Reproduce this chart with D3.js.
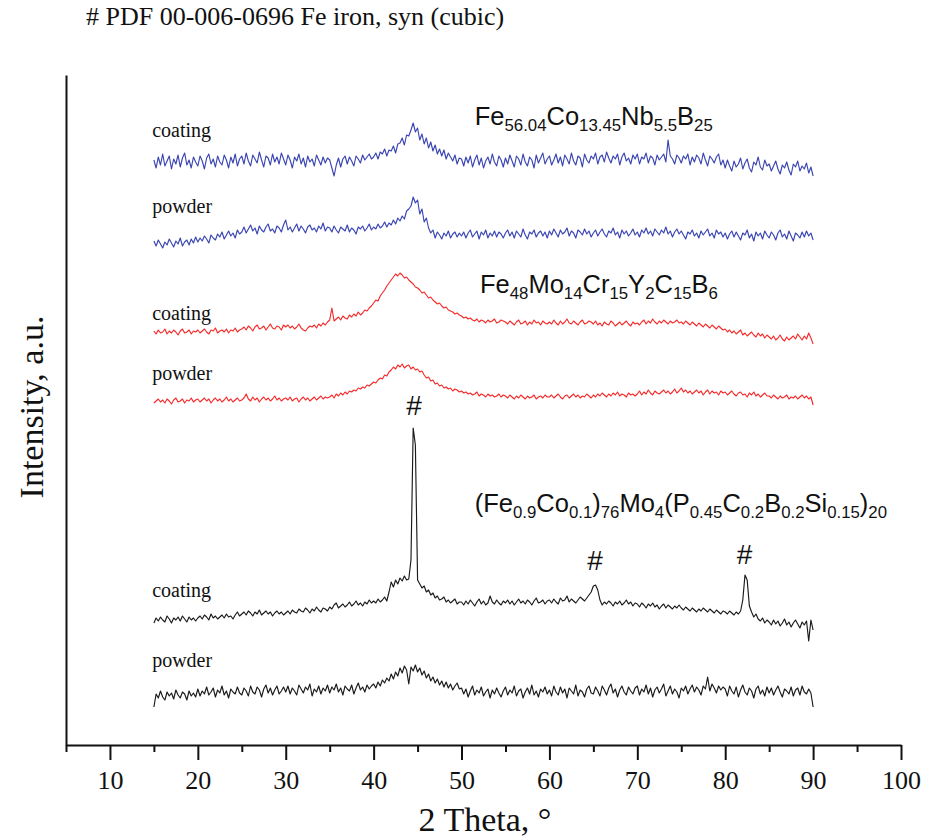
<!DOCTYPE html>
<html>
<head>
<meta charset="utf-8">
<script src="https://cdn.jsdelivr.net/npm/d3@7"></script>
<style>
  html, body { margin: 0; padding: 0; background: #fff; }
  svg { display: block; }
</style>
</head>
<body>
<div id="chart"></div>
<script>
// 2θ grid of every scan: 15° .. 90°, step 0.25°
const thetaStart = 15, thetaStep = 0.25;

// intensity of each scan above its own baseline (a.u.)
const feCoNbCoating = [
  2,-6,5,-3,8,-4,1,6,-7,3,-2,7,-5,4,9,-3,2,-6,5,0,
  -4,6,1,-7,4,8,-2,3,-5,6,0,-3,7,2,-6,5,-1,8,-4,3,
  6,-2,9,1,-4,7,3,-1,10,2,-5,6,4,-3,8,0,5,-2,9,3,
  -3,7,2,-6,5,1,8,-2,4,-5,6,0,3,-4,7,2,-3,5,-1,4,
  2,-6,-14,-3,4,-5,3,6,-2,5,1,-4,6,3,-1,7,2,5,8,3,
  5,9,3,10,8,13,6,12,11,16,9,18,19,24,17,27,26,32,39,30,
  34,22,28,18,24,14,20,11,17,8,13,6,12,3,9,5,1,7,-2,4,
  3,-4,5,-1,6,-5,2,7,-3,4,-6,1,5,-2,8,0,-4,6,2,-5,
  4,-2,7,1,-5,6,3,-3,8,0,-4,5,2,-6,7,-1,4,9,-2,3,
  6,-3,2,8,-1,5,-4,7,3,-2,9,1,-3,6,4,-5,8,2,-1,6,
  3,9,-2,5,7,0,10,4,-1,6,3,8,-3,5,9,1,4,-2,7,3,
  8,-2,5,3,9,-1,6,4,-3,7,2,5,8,0,22,6,3,-2,7,4,
  -1,6,3,8,-3,5,0,7,4,-2,9,2,-4,6,3,-1,5,8,-3,2,
  -6,2,-4,-9,1,-5,-2,4,-7,-1,3,-6,-10,0,-3,5,-5,-8,2,-4,
  -2,-9,-4,1,-7,-12,-3,-6,0,-8,-13,-2,-5,1,-9,-4,-7,-1,-11,-5,
  -14
];
const feCoNbPowder = [
  -5,-10,-4,-8,-12,-6,-9,-3,-7,-11,-5,-8,-2,-10,-6,-4,-9,-3,-7,-1,
  -6,-2,-5,0,-3,-7,1,-2,-4,2,-1,4,-3,1,5,0,3,-2,6,2,
  4,9,3,7,11,5,8,2,10,6,4,9,12,5,7,3,10,8,4,11,
  16,6,9,4,8,12,5,10,7,3,9,11,6,8,4,10,7,13,5,9,
  8,4,10,6,3,9,7,5,11,4,8,6,2,9,7,10,5,8,12,6,
  9,7,12,8,10,14,9,13,11,16,12,18,15,20,17,25,27,30,39,33,
  36,22,27,14,18,8,3,6,-2,4,1,-3,3,0,5,-2,2,4,-1,3,
  0,4,-2,3,6,-1,2,5,-3,4,1,6,-2,3,0,5,-1,4,2,-2,
  3,6,0,4,-2,5,2,-1,7,1,-3,4,2,6,-1,3,5,0,4,-2,
  5,1,7,3,-1,6,2,4,8,0,5,3,-2,6,4,1,7,2,5,-1,
  3,6,0,4,7,2,-1,5,3,8,1,4,-2,6,2,5,0,3,7,1,
  4,-1,6,3,8,2,5,0,7,4,1,6,3,9,2,5,-1,4,7,2,
  5,1,-3,4,2,6,0,3,-2,5,1,4,7,0,3,-2,6,2,4,-1,
  3,-3,2,5,-1,4,0,-4,3,1,6,-2,2,-5,4,0,3,-3,5,1,
  -2,4,1,-4,3,6,-1,2,-3,5,0,-5,3,1,-2,4,-1,5,0,3,
  -4
];
const feMoCrCoating = [
  -1,-4,0,-3,-2,1,-4,-1,-3,0,-2,-5,-1,1,-3,-2,0,-4,-1,-2,
  0,-3,-1,1,-2,-4,0,-1,2,-3,-1,0,-2,1,-3,0,-1,2,-2,0,
  1,3,0,4,2,-1,3,5,1,2,4,0,3,6,2,1,4,3,0,5,
  3,5,2,4,1,3,6,2,0,-1,2,4,3,5,2,6,4,7,5,8,
  10,22,9,11,13,10,14,12,11,15,13,16,14,18,15,17,20,19,22,24,
  27,30,29,34,37,40,44,47,50,53,56,54,57,55,52,53,50,48,46,43,
  42,40,37,38,35,32,33,30,28,26,27,24,22,23,20,19,18,16,17,15,
  14,12,13,11,12,10,9,11,8,10,9,7,10,8,9,11,7,8,10,9,
  8,6,9,7,5,8,10,6,7,9,5,8,6,10,7,8,5,9,7,6,
  8,6,10,7,5,9,6,8,11,7,6,9,7,5,8,10,6,7,9,8,
  6,9,5,7,4,8,6,5,9,7,4,6,8,5,7,9,6,4,8,6,
  7,5,8,10,6,9,7,11,8,6,9,7,10,8,6,9,7,8,10,7,
  8,6,9,7,5,8,6,4,7,5,3,6,4,2,5,3,1,4,2,0,
  1,-2,0,-3,-1,-4,-2,0,-5,-3,-6,-4,-2,-5,-7,-3,-6,-4,-8,-5,
  -7,-9,-6,-10,-8,-5,-9,-11,-7,-10,-8,-6,-9,-4,-7,-10,-6,-9,-3,-8,
  -14
];
const feMoCrPowder = [
  -3,-1,1,-2,0,-3,1,-1,-4,0,2,-2,-1,1,-3,0,-1,2,-2,0,
  1,-2,0,2,-1,1,-3,0,2,-1,1,-2,0,3,-1,1,-2,0,2,-1,
  0,2,6,1,-1,3,0,2,-2,1,3,0,2,-1,1,4,0,2,-1,1,
  2,0,3,-1,1,2,-2,1,3,0,2,-1,1,3,0,2,4,1,3,2,
  3,5,2,6,4,7,5,8,6,9,8,10,9,12,11,13,12,15,14,16,
  18,17,20,22,21,25,24,28,30,33,31,35,33,36,32,34,35,31,33,30,
  31,28,29,25,22,23,19,20,16,17,14,15,12,13,11,12,9,11,10,8,
  9,7,8,6,7,5,6,8,4,6,5,3,6,4,5,3,4,6,3,5,
  4,2,5,3,1,4,2,5,3,1,4,2,3,5,1,3,4,2,5,3,
  3,5,2,4,6,3,1,4,5,2,4,6,3,5,2,4,3,6,4,2,
  5,3,6,4,7,5,3,6,4,7,5,8,4,6,5,3,7,5,6,4,
  6,9,5,8,6,10,7,5,9,7,6,8,10,7,9,6,8,11,7,9,
  12,8,10,7,9,6,8,10,7,9,5,8,10,6,9,7,8,5,9,7,
  8,5,7,9,6,4,7,8,5,6,3,7,5,8,4,6,3,5,7,4,
  4,2,5,3,1,4,2,3,5,1,3,2,4,1,3,5,2,4,1,3,
  -5
];
const feCoMoCoating = [
  -3,2,-1,3,0,-2,4,1,-3,2,0,3,-1,4,1,-2,3,0,2,-1,
  2,4,1,5,3,0,6,2,4,1,3,5,2,6,3,4,1,5,8,4,
  6,8,5,9,7,4,8,6,10,5,7,9,6,8,4,7,9,6,8,5,
  7,9,6,10,8,7,11,9,8,12,10,7,11,9,13,10,8,12,11,9,
  13,11,15,17,12,14,16,13,15,18,14,16,19,15,17,14,18,16,20,17,
  19,17,21,18,20,23,19,28,38,33,40,36,42,39,44,40,41,60,192,175,
  40,36,32,34,28,30,25,27,22,24,20,21,23,18,20,17,19,21,16,18,
  18,15,19,16,20,17,14,18,21,16,19,15,17,24,18,16,20,17,15,19,
  17,20,16,19,15,18,21,17,19,16,20,18,15,19,22,17,18,20,16,19,
  20,17,21,18,16,22,19,20,24,18,21,19,17,20,23,21,19,22,25,28,
  34,35,30,20,15,18,16,19,17,14,18,16,19,15,17,20,16,18,14,17,
  16,13,17,15,12,16,14,17,13,15,11,14,16,12,15,13,11,14,12,15,
  12,10,13,11,9,12,10,8,11,9,12,10,8,11,9,7,10,8,6,9,
  8,6,9,7,5,8,6,9,20,45,40,14,8,3,6,1,-1,2,-3,0,
  -2,-5,0,-4,-1,-6,-3,1,-5,-2,-7,-3,0,-4,-8,-2,-5,-1,-21,0,
  -10
];
const feCoMoPowder = [
  -15,-2,-6,1,-5,-8,0,-4,-1,-7,2,-3,-6,0,-2,-8,1,-4,-1,-5,
  3,-4,1,-2,5,-3,0,4,-5,2,-1,6,-3,1,-6,3,0,-2,5,-1,
  -3,4,1,-4,6,0,-2,5,2,-5,3,7,-1,4,-3,2,6,-2,1,5,
  0,6,-2,4,1,-3,7,3,-1,5,2,8,-4,3,0,6,-2,4,1,7,
  -1,5,2,8,0,4,-3,6,3,1,7,-2,4,9,2,5,0,7,3,6,
  8,4,10,6,12,9,14,11,18,13,20,16,24,19,26,22,8,25,21,27,
  20,24,17,21,14,18,11,15,9,13,7,11,5,10,4,8,2,6,9,3,
  4,-2,3,-5,1,6,-3,2,-1,5,-4,0,3,-6,2,-2,4,-1,-5,1,
  5,-3,2,-1,6,-4,1,3,-6,0,4,-2,7,-3,1,-5,3,0,5,-2,
  2,-4,6,0,-3,5,-1,3,-6,4,1,-2,7,-4,2,0,-5,3,6,-1,
  -2,5,1,-4,6,2,-3,4,8,-1,3,-5,2,6,0,-3,5,1,-2,4,
  6,-3,3,0,7,-2,4,-5,2,5,-1,3,8,-4,1,6,-2,3,0,-6,
  4,1,6,-2,3,7,0,5,2,-3,6,3,15,1,8,4,-1,6,2,5,
  3,-4,6,1,-2,5,-5,2,7,0,-3,4,1,-6,3,6,-2,2,-4,5,
  -1,4,-3,2,6,0,-5,3,1,-2,5,-4,2,4,-3,6,0,-2,3,-1,
  -15
];

// vertical stacking of the six scans (a.u.), top to bottom
const traceOffsets = [583, 509, 415, 345, 125, 53];
const sampleKinds = ['coating', 'powder', 'coating', 'powder', 'coating', 'powder'];

const xTicks = [10, 20, 30, 40, 50, 60, 70, 80, 90, 100];
const xMinorTicks = [5, 15, 25, 35, 45, 55, 65, 75, 85, 95];

// the bcc Fe reflections marked with '#'
const feReflections = [44.6, 65.2, 82.2];

const W = 936, H = 840;
const serif = '"Liberation Serif", "Times New Roman", serif';
const sans = '"Liberation Sans", Arial, sans-serif';
const traceColors = ['#3a45b2', '#3a45b2', '#f52a2a', '#f52a2a', '#1a1a1a', '#1a1a1a'];

const series = [feCoNbCoating, feCoNbPowder, feMoCrCoating, feMoCrPowder, feCoMoCoating, feCoMoPowder];

const svg = d3.select('#chart').append('svg')
  .attr('width', W).attr('height', H).attr('viewBox', `0 0 ${W} ${H}`);

const x = d3.scaleLinear().domain([5, 100]).range([66, 901]);
const y = d3.scaleLinear().domain([0, 670]).range([745, 75]);

// title
svg.append('text').attr('x', 86).attr('y', 25)
  .attr('font-family', serif).attr('font-size', 26).attr('fill', '#111')
  .text('# PDF 00-006-0696 Fe iron, syn (cubic)');

// scans
const line = d3.line()
  .x((d, i) => x(thetaStart + i * thetaStep))
  .y((d) => y(d));
series.forEach((vals, k) => {
  svg.append('path')
    .datum(vals.map((v) => v + traceOffsets[k]))
    .attr('fill', 'none').attr('stroke', traceColors[k])
    .attr('stroke-width', 1.15).attr('stroke-linejoin', 'round')
    .attr('d', line);
});

// axes
const xAxis = svg.append('g').attr('transform', `translate(0,${y(0)})`)
  .call(d3.axisBottom(x).tickValues(xTicks).tickSize(15).tickSizeOuter(0).tickFormat(d3.format('d')));
svg.append('g').attr('transform', `translate(0,${y(0)})`)
  .call(d3.axisBottom(x).tickValues(xMinorTicks).tickSize(7).tickSizeOuter(0).tickFormat(''))
  .select('.domain').remove();
xAxis.selectAll('text').attr('y', 26).attr('font-family', serif).attr('font-size', 26).attr('fill', '#111');
svg.append('g').attr('transform', `translate(${x(5)},0)`)
  .call(d3.axisLeft(y).tickValues([]).tickSizeOuter(0));
svg.selectAll('.domain, .tick line').attr('stroke', '#111').attr('stroke-width', 2);

svg.append('text').attr('x', 485).attr('y', 831).attr('text-anchor', 'middle')
  .attr('font-family', serif).attr('font-size', 34).attr('fill', '#111')
  .text('2 Theta, °');
svg.append('text').attr('transform', 'translate(43,407) rotate(-90)').attr('text-anchor', 'middle')
  .attr('font-family', serif).attr('font-size', 34).attr('fill', '#111')
  .text('Intensity, a.u.');

// sample labels at the left of each scan
const kindLevels = [608, 532, 425, 365, 148, 78];
sampleKinds.forEach((s, k) => {
  svg.append('text').attr('x', x(14.8)).attr('y', y(kindLevels[k]))
    .attr('font-family', serif).attr('font-size', 20).attr('fill', '#111').text(s);
});

// alloy formulas with subscripts
const formulas = [
  { theta: 51.5, level: 620, parts: [['Fe'], ['56.04', 1], ['Co'], ['13.45', 1], ['Nb'], ['5.5', 1], ['B'], ['25', 1]] },
  { theta: 52.1, level: 452, parts: [['Fe'], ['48', 1], ['Mo'], ['14', 1], ['Cr'], ['15', 1], ['Y'], ['2', 1], ['C'], ['15', 1], ['B'], ['6', 1]] },
  { theta: 51.5, level: 233, parts: [['(Fe'], ['0.9', 1], ['Co'], ['0.1', 1], [')'], ['76', 1], ['Mo'], ['4', 1], ['(P'], ['0.45', 1], ['C'], ['0.2', 1], ['B'], ['0.2', 1], ['Si'], ['0.15', 1], [')'], ['20', 1]] },
];
formulas.forEach((f) => {
  const t = svg.append('text').attr('x', x(f.theta)).attr('y', y(f.level))
    .attr('font-family', sans).attr('font-size', 25.5).attr('fill', '#111');
  let sub = false;
  f.parts.forEach(([s, isSub]) => {
    const ts = t.append('tspan').text(s);
    if (isSub && !sub) ts.attr('dy', 6).attr('font-size', 16.8);
    else if (isSub) ts.attr('font-size', 16.8);
    else if (sub) ts.attr('dy', -6);
    sub = !!isSub;
  });
});

// '#' markers above the crystalline Fe peaks of the coating
const markLevels = [330, 175, 181];
feReflections.forEach((t, i) => {
  svg.append('text').attr('x', x(t)).attr('y', y(markLevels[i])).attr('text-anchor', 'middle')
    .attr('font-family', sans).attr('font-size', 28).attr('fill', '#111').text('#');
});
</script>
</body>
</html>
